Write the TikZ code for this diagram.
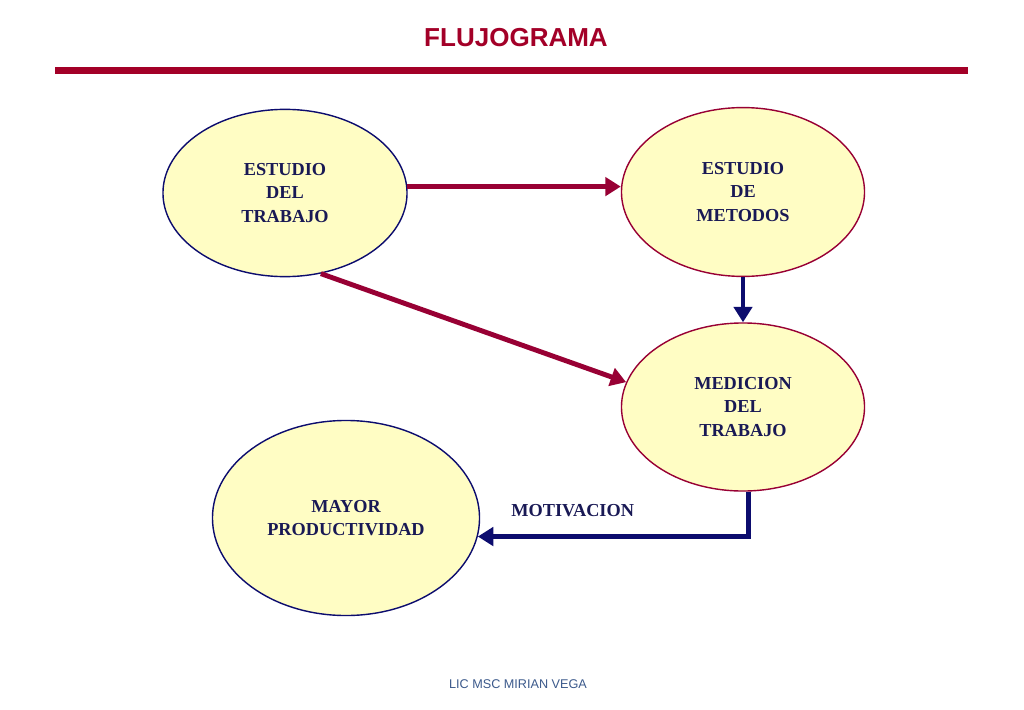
\documentclass[tikz,border=0pt]{standalone}
\usepackage{fontspec}
\setmainfont{Liberation Serif}
\newfontfamily\titlefont{Liberation Sans}
\usepackage{tikz}
\usetikzlibrary{arrows.meta, positioning, shapes.geometric}
\definecolor{rojo}{RGB}{163,0,40}
\definecolor{granate}{RGB}{152,0,52}
\definecolor{marino}{RGB}{12,12,110}
\definecolor{tinta}{RGB}{25,25,85}
\definecolor{crema}{RGB}{255,253,196}
\definecolor{acero}{RGB}{60,90,140}

\begin{document}
\begin{tikzpicture}[x=0.025cm, y=-0.025cm, thick,
        etapa/.style = {ellipse, draw, fill=crema, line width=1pt, align=center, inner sep=0pt,
                        text=tinta, font=\fontsize{13}{16.4}\selectfont\bfseries},
        flecha/.style = {line width=3.5pt, -{Triangle[length=11pt, width=13pt]}},
    ]
    \useasboundingbox[fill=white] (0,0) rectangle (1024,709);
    \node[font=\titlefont\bfseries\fontsize{18.5}{20}\selectfont, text=rojo] (titulo) at (516,38) {FLUJOGRAMA};
    \fill[rojo] (55,67) rectangle (968,74);
    %
    \node[etapa, draw=marino, minimum width=6.1cm, minimum height=4.18cm]    (trabajo) at (285,193) {ESTUDIO\\DEL\\TRABAJO};
    \node[etapa, draw=granate, minimum width=6.075cm, minimum height=4.22cm] (metodos) at (743,192) {ESTUDIO\\DE\\METODOS};
    \node[etapa, draw=granate, minimum width=6.075cm, minimum height=4.2cm]  (medicion) at (743,407) {MEDICION\\DEL\\TRABAJO};
    \node[etapa, draw=marino, minimum width=6.675cm, minimum height=4.875cm] (mayor) at (346,518) {MAYOR\\PRODUCTIVIDAD};
    %
    \draw[flecha, granate] (trabajo.3) -- (trabajo.3 -| metodos.west);
    \draw[flecha, granate] (trabajo.-66) -- (medicion.168);
    \draw[flecha, marino]  (metodos.south) -- (medicion.north);
    \draw[flecha, marino]  (medicion.-86) |- (mayor.-8)
        node[pos=0.825, above=0.32cm, text=tinta, font=\fontsize{13}{16.4}\selectfont\bfseries] {MOTIVACION};
    %
    \node[font=\titlefont\fontsize{9}{11}\selectfont, text=acero] (autor) at (518,684) {LIC MSC MIRIAN VEGA};
\end{tikzpicture}
\end{document}
